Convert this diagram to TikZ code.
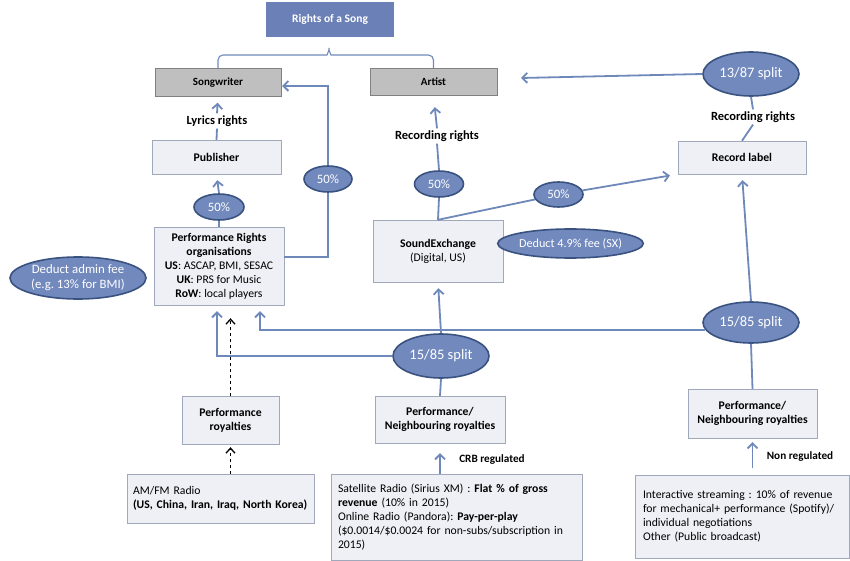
\documentclass[tikz,border=0pt]{standalone}
\usepackage{fontspec}
\setmainfont{Carlito}
\usetikzlibrary{arrows.meta,shapes.geometric}
\frenchspacing

\definecolor{songblue}{RGB}{106,128,182}
\definecolor{pillfill}{RGB}{114,137,189}
\definecolor{pilledge}{RGB}{58,82,128}
\definecolor{linkblue}{RGB}{111,136,186}
\definecolor{boxfill}{RGB}{238,240,246}
\definecolor{boxedge}{RGB}{160,168,188}
\definecolor{rolefill}{RGB}{191,191,191}
\definecolor{roleedge}{RGB}{128,128,128}

\tikzset{
  topbox/.style={fill=songblue, text=white, font=\fontsize{11.5}{14}\selectfont\bfseries,
    minimum width=128pt, minimum height=35pt},
  rolebox/.style={draw=roleedge, fill=rolefill, font=\fontsize{11}{13}\selectfont\bfseries},
  infobox/.style={draw=boxedge, fill=boxfill, font=\fontsize{11.7}{14}\selectfont, align=center},
  notebox/.style={infobox, align=left, inner ysep=3pt},
  pill/.style={ellipse, draw=pilledge, line width=1.6pt, fill=pillfill, text=white, inner sep=0pt,
    font=\fontsize{12.8}{15}\selectfont, align=center},
  splitpill/.style={pill, font=\fontsize{14.5}{17}\selectfont, minimum width=96pt},
  rightslbl/.style={font=\fontsize{12.5}{15}\selectfont\bfseries, inner sep=2pt},
  reglbl/.style={font=\fontsize{11.2}{13}\selectfont\bfseries},
  link/.style={draw=linkblue, line width=1.8pt},
  brace/.style={draw=linkblue, line width=1.1pt, rounded corners=5pt},
  arr/.style={link, -{Straight Barb[length=5pt,width=10pt]}, shorten >=6pt},
  dasharr/.style={draw=black, line width=1.3pt, dashed, -{Straight Barb[length=5pt,width=9pt]}, shorten >=5pt},
}

\begin{document}
\begin{tikzpicture}[x=1pt, y=-1pt]
\useasboundingbox (0,0) rectangle (850,561);

% boxes
\node[topbox] (song) at (330,19.5) {Rights of a Song};
\node[rolebox, minimum width=126pt, minimum height=28pt] (writer) at (218,82.5) {Songwriter};
\node[rolebox, minimum width=127pt, minimum height=27pt] (artist) at (433.5,81.5) {Artist};
\node[infobox, minimum width=129pt, minimum height=34pt] (publisher) at (216.5,157) {\textbf{Publisher}};
\node[infobox, minimum width=130pt, minimum height=78pt] (pro) at (219,266)
  {\textbf{Performance Rights}\\ \textbf{organisations}\\ \textbf{US}: ASCAP, BMI, SESAC\\
   \textbf{UK}: PRS for Music\\ \textbf{RoW}: local players};
\node[infobox, minimum width=130pt, minimum height=62pt] (sx) at (438,251)
  {\textbf{SoundExchange}\\ (Digital, US)};
\node[infobox, minimum width=128pt, minimum height=33pt] (label) at (742,157.5) {\textbf{Record label}};
\node[infobox, minimum width=97pt, minimum height=48pt] (perfroy) at (230.5,420)
  {\textbf{Performance}\\ \textbf{royalties}};
\node[infobox, minimum width=130pt, minimum height=47pt] (neighmid) at (440,419.5)
  {\textbf{Performance/}\\ \textbf{Neighbouring royalties}};
\node[infobox, minimum width=129pt, minimum height=49pt] (neighright) at (752.5,413.5)
  {\textbf{Performance/}\\ \textbf{Neighbouring royalties}};
\node[notebox, text width=175pt, inner xsep=6pt, minimum height=49pt] (radio) at (220.5,498.5)
  {AM/FM Radio\\ \textbf{(US, China, Iran, Iraq, North Korea)}};
\node[notebox, text width=237pt, inner xsep=7pt, minimum height=86pt] (satellite) at (456.5,517)
  {Satellite Radio (Sirius XM) : \textbf{Flat \% of gross}\\ \textbf{revenue} (10\% in 2015)\\
   Online Radio (Pandora): \textbf{Pay-per-play}\\
   (\$0.0014/\$0.0024 for non-subs/subscription in\\ 2015)};
\node[notebox, text width=198pt, inner xsep=8pt, minimum height=83pt] (streaming) at (742,516.5)
  {Interactive streaming : 10\% of revenue\\ for mechanical+ performance (Spotify)/\\
   individual negotiations\\ Other (Public broadcast)};

% ellipses
\node[pill, minimum width=50pt, minimum height=26pt] (pubshare) at (219,207) {50\%};
\node[pill, minimum width=48pt, minimum height=26pt] (writershare) at (328,179) {50\%};
\node[pill, minimum width=49pt, minimum height=26pt] (artistshare) at (439,184) {50\%};
\node[pill, minimum width=49pt, minimum height=25pt] (labelshare) at (558.5,194.5) {50\%};
\node[pill, font=\fontsize{12.2}{14}\selectfont, minimum width=129pt, minimum height=29pt] (sxfee)
  at (570.5,243.5) {Deduct 4.9\% fee (SX)};
\node[pill, minimum width=136pt, minimum height=42pt] (adminfee) at (78,278)
  {Deduct admin fee\\ (e.g. 13\% for BMI)};
\node[splitpill, minimum height=44pt] (splitlabel) at (751,74) {13/87 split};
\node[splitpill, minimum height=41pt] (splitright) at (751,322.5) {15/85 split};
\node[splitpill, minimum height=44pt] (splitmid) at (441,356) {15/85 split};

% texts
\node[rightslbl] (lyrics) at (217,121) {Lyrics rights};
\node[rightslbl] (recartist) at (437,136) {Recording rights};
\node[rightslbl] (reclabel) at (753,117) {Recording rights};
\node[reglbl] (crb) at (492,460) {CRB regulated};
\node[reglbl] (nonreg) at (800,457) {Non regulated};
\coordinate (bracetip) at (329,45);
\coordinate (artistin) at (521,78);

% bracket under the song
\draw[brace] (writer.north) |- (322,55) .. controls (327,55) and (329,50) .. (bracetip)
  .. controls (329,50) and (331,55) .. (336,55) -| (artist.north);

% songwriter side
\draw[link] (publisher.north) -- (lyrics.south);
\draw[arr] (lyrics.north) -- (writer.south);
\draw[link] (pro.north) -- (pubshare.south);
\draw[arr] (pubshare.north) -- (publisher.south);
\draw[link] ([yshift=9pt]pro.east) -| (writershare.south);
\draw[arr, shorten >=1pt] (writershare.north) |- ([yshift=-3.5pt]writer.east);

% artist and label side
\draw[link] (sx.north) -- (artistshare.south);
\draw[link] (artistshare.north) -- (recartist.south);
\draw[arr, shorten >=12pt] (recartist.north) -- (artist.south);
\draw[link] (sx.north) -- (labelshare);
\draw[arr, shorten >=8pt] (labelshare) -- (label.south west);
\draw[link] (label.north) -- (reclabel.south);
\draw[link] (reclabel.north) -- (splitlabel.south);
\draw[arr, shorten >=0pt] (splitlabel.west) -- (artistin);

% splits
\draw[arr] (splitright.north) -- (label.south);
\draw[arr] (splitright.189) -| ([xshift=41pt]pro.south);
\draw[link] (splitright.south) -- (neighright.north);
\draw[arr] (splitmid.north) -- (sx.south);
\draw[arr] (splitmid.west) -| ([xshift=-2pt]pro.south);
\draw[link] (splitmid.south) -- (neighmid.north);

% sources
\draw[arr, shorten >=10pt] (satellite.north -| neighmid.south) -- (neighmid.south);
\draw[arr, shorten <=7pt, shorten >=4pt] (streaming.north -| neighright.south) -- (neighright.south);
\draw[dasharr, shorten >=13pt] (perfroy.north) -- (pro.south -| perfroy.north);
\draw[dasharr, shorten >=3pt] (radio.north -| perfroy.south) -- (perfroy.south);
\end{tikzpicture}
\end{document}
